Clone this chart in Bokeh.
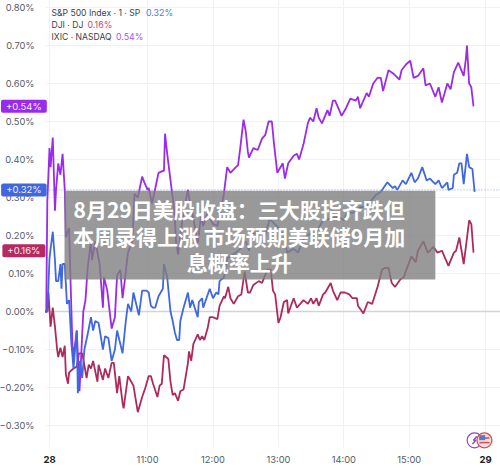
from bokeh.plotting import figure
from bokeh.models import Range1d, FixedTicker, Label, BoxAnnotation, Span
from bokeh.embed import file_html
from bokeh.resources import INLINE

# minutes after the 9:30 open, percent change
nasdaq_t = [-4,-3,-2,0,1,3,5,6,8,10,12,14,15,18,19,21,22,25,27.5,31,33,35,38,39,42,46,49,50,53,57,60,62,65,67,69,72,76,78,81,85,87,90,91,94,96,100,104,105,106,108,111,113,115,116,118,121,123,127,128,131,136,139,141,145,150,154,157,160,163,166,171,173,175,178,180,182,183,187,191,195,198,201,204,206,209,214,216,219,224,227,229,233,237,239,242,245,247,250,255,257,260,262,265,268,272,276,281,283,285,291,293,297,301,304,306,311,316,321,323,327,331,334,338,343,345,349,354,357,360,365,368,371,375,380,382,383,385,387,389]
nasdaq_v = [0,0,0.29,0.43,0.38,0.458,0.265,0.32,0.39,0.36,0.415,0.32,0.195,0.22,0.11,-0.085,-0.12,-0.05,-0.21,0.0,0.03,0.115,0.185,0.135,0.185,0.125,0.01,0.09,0.055,-0.045,-0.015,0.095,0.11,0.035,0.08,0.155,0.185,0.31,0.30,0.355,0.34,0.32,0.325,0.285,0.31,0.365,0.37,0.37,0.468,0.415,0.345,0.30,0.25,0.185,0.15,0.22,0.265,0.32,0.30,0.26,0.18,0.25,0.225,0.26,0.23,0.225,0.265,0.31,0.38,0.365,0.38,0.385,0.43,0.505,0.475,0.42,0.405,0.43,0.425,0.455,0.465,0.50,0.50,0.44,0.365,0.39,0.35,0.39,0.41,0.415,0.40,0.44,0.495,0.51,0.50,0.535,0.51,0.495,0.53,0.515,0.555,0.555,0.535,0.515,0.535,0.56,0.555,0.565,0.535,0.575,0.565,0.60,0.615,0.615,0.58,0.635,0.625,0.61,0.635,0.65,0.66,0.615,0.62,0.64,0.595,0.60,0.565,0.59,0.55,0.60,0.585,0.63,0.655,0.62,0.665,0.70,0.60,0.59,0.54]

sp_t = [-4,-2,0,1,3,5,6,8,10,11,12,14,16,18,20,22,25,26,28,30,32,35,38,40,42,45,49,51,54,57,60,62,67,70,72,75,77,82,85,89,91,93,95,97,100,104,105,108,111,113,115,117,119,120,123,127,129,131,136,137,140,141,147,150,153,155,156,160,163,171,175,180,183,187,192,196,202,205,210,215,218,224,228,233,239,244,251,258,265,270,273,279,285,290,299,304,310,315,317,319,324,327,332,335,338,342,346,349,354,357,360,365,366,370,371,374,376,378,380,383,385,388,390]
sp_v = [0,0,0.14,0.165,0.21,0.135,0.08,0.08,0.125,0.06,0.125,0.125,0.02,0.03,-0.08,-0.15,-0.05,-0.215,-0.13,-0.175,-0.10,-0.06,-0.015,-0.05,-0.025,-0.03,-0.10,-0.065,-0.07,-0.13,-0.10,-0.05,-0.11,-0.025,0.02,0.0,0.05,-0.01,0.055,0.055,0.05,0.015,0.01,0.01,0.04,0.06,0.125,0.09,0.0,-0.025,-0.055,-0.075,-0.075,-0.025,0.01,0.05,0.01,0.03,-0.015,0.025,0.035,0.01,0.06,0.035,0.05,0.045,0.08,0.09,0.14,0.155,0.165,0.185,0.16,0.205,0.205,0.18,0.245,0.235,0.22,0.20,0.155,0.165,0.155,0.19,0.205,0.205,0.24,0.245,0.25,0.24,0.26,0.26,0.275,0.275,0.305,0.315,0.34,0.325,0.33,0.32,0.345,0.335,0.365,0.34,0.35,0.38,0.345,0.35,0.335,0.345,0.325,0.34,0.32,0.325,0.36,0.365,0.39,0.39,0.335,0.415,0.38,0.375,0.315]

dji_t = [-4,-2,-1,1,3,5,7,8,10,12,14,15,17,18,22,25,27,30,31,34,36,38,40,44,45,49,51,54,57,59,62,64,67,68,72,75,77,81,85,88,91,93,95,99,101,103,105,109,111,113,115,118,120,123,127,128,130,132,136,138,140,142,145,147,150,154,156,160,161,164,166,169,173,176,179,182,184,187,192,195,197,200,203,205,207,210,212,215,218,219,224,227,233,237,240,242,245,247,251,253,258,260,264,267,271,275,278,282,283,288,292,296,301,305,308,311,314,317,322,325,328,332,336,338,343,347,349,352,356,360,366,371,373,376,380,382,385,387,389]
dji_v = [0,0,0.05,-0.04,0.01,-0.04,-0.10,-0.12,-0.095,-0.12,-0.09,-0.165,-0.19,-0.16,-0.15,-0.145,-0.11,-0.11,-0.125,-0.175,-0.14,-0.15,-0.13,-0.185,-0.14,-0.18,-0.15,-0.175,-0.135,-0.135,-0.215,-0.17,-0.24,-0.255,-0.17,-0.185,-0.195,-0.265,-0.225,-0.20,-0.17,-0.17,-0.19,-0.225,-0.195,-0.19,-0.115,-0.125,-0.185,-0.22,-0.215,-0.235,-0.21,-0.205,-0.135,-0.105,-0.13,-0.085,-0.06,-0.075,-0.065,-0.075,-0.045,-0.015,-0.015,-0.02,0.015,0.04,0.035,0.065,0.035,0.02,0.04,0.045,0.105,0.05,0.05,0.07,0.08,0.075,0.09,0.11,0.11,0.055,0.045,-0.03,-0.015,0.025,0.03,-0.005,0.035,0.01,0.03,0.02,0.035,0.02,0.035,0.015,0.045,0.05,0.075,0.055,0.03,0.05,0.05,0.045,0.035,0.035,0.015,-0.005,0.025,0.02,0.065,0.11,0.115,0.115,0.075,0.065,0.085,0.09,0.115,0.145,0.13,0.16,0.185,0.155,0.16,0.17,0.155,0.16,0.12,0.155,0.16,0.195,0.125,0.17,0.24,0.23,0.155]

y_ticks = [-0.3,-0.2,-0.1,0,0.1,0.2,0.3,0.4,0.5,0.6,0.7,0.8]
y_labels = ["\u22120.30%","\u22120.20%","\u22120.10%","0.00%","0.10%","0.20%","0.30%","0.40%","0.50%","0.60%","0.70%","0.80%"]
x_ticks = [0,90,150,210,270,330,400]
x_labels = ["","11:00","12:00","13:00","14:00","15:00",""]
day_ticks = [0,400]
day_labels = ["28","29"]

PURPLE, BLUE, RED = "#9a2bea", "#3f68e0", "#ad2a5c"
FONT = "Inter"
AX_X, AX_Y = -3.67, -0.358

p = figure(width=508, height=485, output_backend="svg", toolbar_location=None,
           x_range=Range1d(-52.3,413.76), y_range=Range1d(-0.4368,0.8395),
           min_border_left=0, min_border_right=0, min_border_top=0, min_border_bottom=0,
           outline_line_color=None, background_fill_color="white", border_fill_color="white")
p.styles = {"margin-left":"-8px","margin-top":"-8px"}

p.xaxis.ticker = FixedTicker(ticks=x_ticks)
p.yaxis.ticker = FixedTicker(ticks=y_ticks)
p.xaxis.major_label_overrides = dict(zip(x_ticks,x_labels))
p.yaxis.major_label_overrides = dict(zip(y_ticks,y_labels))
p.xaxis[0].fixed_location = AX_Y
p.yaxis[0].fixed_location = AX_X
for ax in (p.xaxis[0], p.yaxis[0]):
    ax.axis_line_color=None; ax.major_tick_line_color=None; ax.minor_tick_line_color=None
    ax.major_label_text_font=FONT; ax.major_label_text_font_size="9.3px"
    ax.major_label_text_color="#555a66"
p.yaxis.major_label_standoff=5
p.xaxis.major_label_standoff=0
p.grid.grid_line_color="#eff1f6"
p.grid.grid_line_width=1

p.add_layout(Span(location=0,dimension="width",line_color="#d3d4da",line_width=1.5,level="underlay"))
p.add_layout(Span(location=0.32,dimension="width",line_color=BLUE,line_alpha=0.6,line_width=1,line_dash="1 2",level="underlay"))
# blank the strips outside the plotting area, over the grid
p.add_layout(BoxAnnotation(right=AX_X,fill_color="white",fill_alpha=1,line_color=None,level="underlay"))
p.add_layout(BoxAnnotation(top=AX_Y,fill_color="white",fill_alpha=1,line_color=None,level="underlay"))

p.line(dji_t,dji_v,line_color=RED,line_width=1.8)
p.line(nasdaq_t,nasdaq_v,line_color=PURPLE,line_width=1.8)
p.line(sp_t,sp_v,line_color=BLUE,line_width=1.8)

# banner
p.add_layout(BoxAnnotation(left=13.76,right=354,top=0.318,bottom=0.084,fill_color="#808080",fill_alpha=0.8,line_color=None,level="overlay"))
title_lines = ["8月29日美股收盘：三大股指齐跌但","本周录得上涨 市场预期美联储9月加","息概率上升"]
title_y = [0.27,0.20,0.13]
for s,y in zip(title_lines,title_y):
    p.add_layout(Label(x=174,y=y,text=s,text_color="white",text_font="Noto Sans CJK SC",text_font_style="bold",
                       text_font_size="21px",text_align="center",text_baseline="middle",level="overlay"))

# day labels
for t,s in zip(day_ticks,day_labels):
    p.add_layout(Label(x=t,y=-0.39,text=s,text_font=FONT,text_font_style="bold",text_font_size="9.5px",
                       text_color="#222222",text_align="center",text_baseline="middle"))

# tags on the axis
for v,s,c in [(0.54,"+0.54%","#9a2bea"),(0.32,"+0.32%","#3f68e0"),(0.16,"+0.16%","#b62a60")]:
    p.add_layout(Label(x=-23.5,y=v,text=s,text_color="#f4eef8",text_font=FONT,text_font_size="9.5px",
                       text_align="center",text_baseline="middle",background_fill_color=c,border_radius=2,
                       padding=(5,1),level="overlay"))

# legend
legend = [("S&P 500 Index · 1 · SP","0.32%",145.5,"#4f78e2",12),("DJI · DJ","0.16%",87,"#cf3f70",24),("IXIC · NASDAQ","0.54%",115.5,"#a855f0",36)]
for name,val,vx,c,ly in legend:
    p.add_layout(Label(x=51+8,x_units="screen",y=477-ly,y_units="screen",text=name,text_font=FONT,text_font_size="8.6px",
                       text_color="#3c3f48",text_baseline="middle"))
    p.add_layout(Label(x=vx+8,x_units="screen",y=477-ly,y_units="screen",text=val,text_font=FONT,text_font_size="8.8px",
                       text_color=c,text_baseline="middle"))

# badges
p.scatter([390],[-0.339],size=15,fill_color="white",line_color="#8b45c8",line_width=1.2)
p.line([388,391,389,392],[-0.349,-0.339,-0.339,-0.329],line_color="#8b45c8",line_width=1.5)
p.scatter([399],[-0.339],size=15,fill_color="#f7dcdc",line_color="#d0504f",line_width=1.3)
p.rect([399,399],[-0.345,-0.333],width=10,height=1.5,width_units="screen",height_units="screen",fill_color="#d0504f",line_color=None)
p.rect([397],[-0.332],width=6,height=5,width_units="screen",height_units="screen",fill_color="#5a78c8",line_color=None)

open("out.html","w").write(file_html(p,INLINE))
